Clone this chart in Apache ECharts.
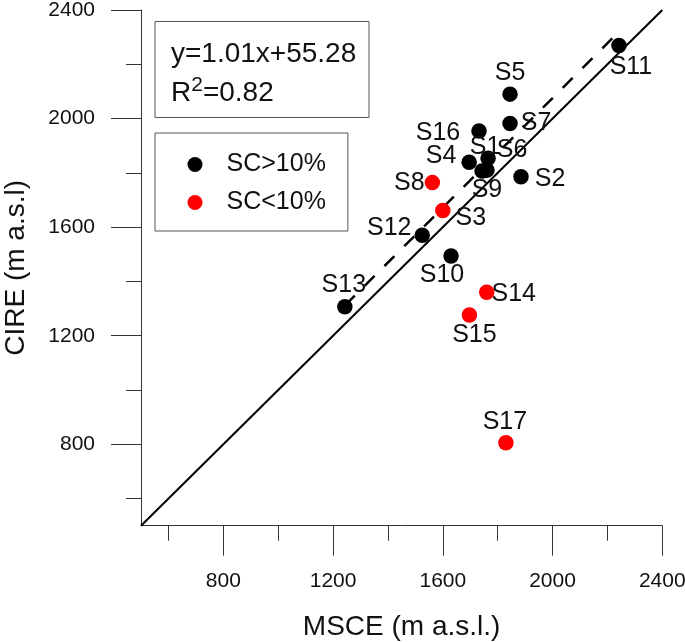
<!DOCTYPE html>
<html><head><meta charset="utf-8">
<script src="https://cdn.jsdelivr.net/npm/echarts@6/dist/echarts.min.js"></script>
<style>html,body{margin:0;padding:0;background:#fff}#c{width:685px;height:642px}</style>
</head><body><div id="c"></div>
<script>
// ---- data ----
const blackNames = ['S1','S2','S4','S5','S6','S7','S9','S10','S11','S12','S13','S16'];
const blackMSCE  = [1743,1885,1696,1845,1765,1845,1761,1630,2242,1525,1243,1732];
const blackCIRE  = [1807,1786,1839,2090,1854,1982,1810,1494,2269,1570,1307,1954];
const redNames = ['S3','S8','S14','S15','S17'];
const redMSCE  = [1600,1562,1760,1697,1830];
const redCIRE  = [1661,1764,1360,1276,806];
const oneToOneX = [500, 2400];
const oneToOneY = [500, 2400];
const regX = [1243, 2242];
const regY = [1311, 2320];
const majorTicks = [800,1200,1600,2000,2400];
const minorTicks = [600,1000,1400,1800,2200];
const eqText = 'y=1.01x+55.28';
const r2Text = '0.82';
const legendNames = ['SC>10%','SC<10%'];

// ---- styles ----
const FONT = '"Liberation Sans", Arial, Helvetica, sans-serif';
const TXT = '#111';
const labelOffset = {S5:[0,-21],S7:[26,0],S16:[-41,2],S4:[-28,-6],S1:[3,-24],S6:[24,-8],S9:[0,20],
  S2:[29,2],S8:[-23,0],S3:[28,8],S12:[-33,-7],S10:[-9,19],S13:[-1,-22],S14:[27,2],S15:[5,20],S17:[-1,-21],S11:[12,22]};

function pts(names, xs, ys) {
  return names.map((n,i)=>({name:n, value:[xs[i], ys[i]], label:{offset: labelOffset[n] || [0,0]}}));
}
function pairs(xs, ys){ return xs.map((x,i)=>[x, ys[i]]); }

const axisLineStyle = {color:'#333', width:1};
function tickLabel(margin){
  return {customValues:majorTicks, fontSize:21, margin:margin, color:TXT, fontFamily:FONT,
    formatter:v=>String(v)};
}
function mainAxis(pos, name, extra){
  return Object.assign({
    type:'value', min:500, max:2400, position:pos,
    axisLine:{show:true, onZero:false, lineStyle:axisLineStyle},
    axisTick:{show:true, customValues:majorTicks, length:30, lineStyle:axisLineStyle},
    splitLine:{show:false},
    name:name, nameLocation:'middle',
    nameTextStyle:{fontSize:28, color:TXT, fontFamily:FONT}
  }, extra);
}
function minorAxis(pos){
  return {type:'value', min:500, max:2400, position:pos,
    axisLine:{show:false},
    axisTick:{show:true, customValues:minorTicks, length:15, lineStyle:axisLineStyle},
    axisLabel:{show:false}, splitLine:{show:false}};
}
const pointLabel = {show:true, position:'inside', formatter:'{b}', fontSize:25, color:TXT,
  fontFamily:FONT, textBorderWidth:0, opacity:1};

const chart = echarts.init(document.getElementById('c'), null, {renderer:'canvas'});
chart.setOption({
  animation:false,
  backgroundColor:'#fff',
  textStyle:{fontFamily:FONT},
  grid:{left:141, top:10, right:22.7, bottom:116.3, containLabel:false, outerBoundsMode:'none'},
  xAxis:[
    mainAxis('bottom','MSCE (m a.s.l.)',{nameGap:88, axisLabel:tickLabel(45)}),
    minorAxis('bottom')
  ],
  yAxis:[
    mainAxis('left','CIRE (m a.s.l)',{nameGap:111, nameRotate:90, axisLabel:tickLabel(46)}),
    minorAxis('left')
  ],
  legend:{
    orient:'vertical', left:155, top:133, padding:[19,22,16,32.5], itemGap:13,
    itemWidth:53, itemHeight:15, borderColor:'#555', borderWidth:1, selectedMode:false,
    textStyle:{fontSize:25, color:TXT, fontFamily:FONT},
    data:[{name:legendNames[0], icon:'circle', itemStyle:{opacity:1}},
          {name:legendNames[1], icon:'circle', itemStyle:{opacity:1}}]
  },
  graphic:[
    {type:'rect', x:155, y:21.5, shape:{width:214, height:96}, style:{fill:'none', stroke:'#555', lineWidth:1}},
    {type:'text', x:171, y:54, style:{text:eqText, font:'28px '+FONT, fill:TXT, verticalAlign:'middle', align:'left'}},
    {type:'text', x:171, y:93, style:{text:'{a|R}{s|2}{a|='+r2Text+'}', verticalAlign:'middle', align:'left',
      rich:{a:{fontSize:28, fontFamily:FONT, fill:TXT, color:TXT}, s:{fontSize:21, fontFamily:FONT, fill:TXT, color:TXT, padding:[0,0,16,0]}}}}
  ],
  series:[
    {type:'line', name:'1:1', data:pairs(oneToOneX, oneToOneY), symbol:'none', silent:true, z:2,
      lineStyle:{color:'#000', width:2}},
    {type:'line', name:'fit', data:pairs(regX, regY), symbol:'none', silent:true, z:2,
      lineStyle:{color:'#000', width:2.5, type:[14,14]}},
    {type:'scatter', name:legendNames[0], data:pts(blackNames, blackMSCE, blackCIRE), symbolSize:15.5, z:3,
      itemStyle:{color:'#000', opacity:1}, label:pointLabel},
    {type:'scatter', name:legendNames[1], data:pts(redNames, redMSCE, redCIRE), symbolSize:15.5, z:3,
      itemStyle:{color:'#ff0000', opacity:1}, label:pointLabel}
  ]
});
</script></body></html>
